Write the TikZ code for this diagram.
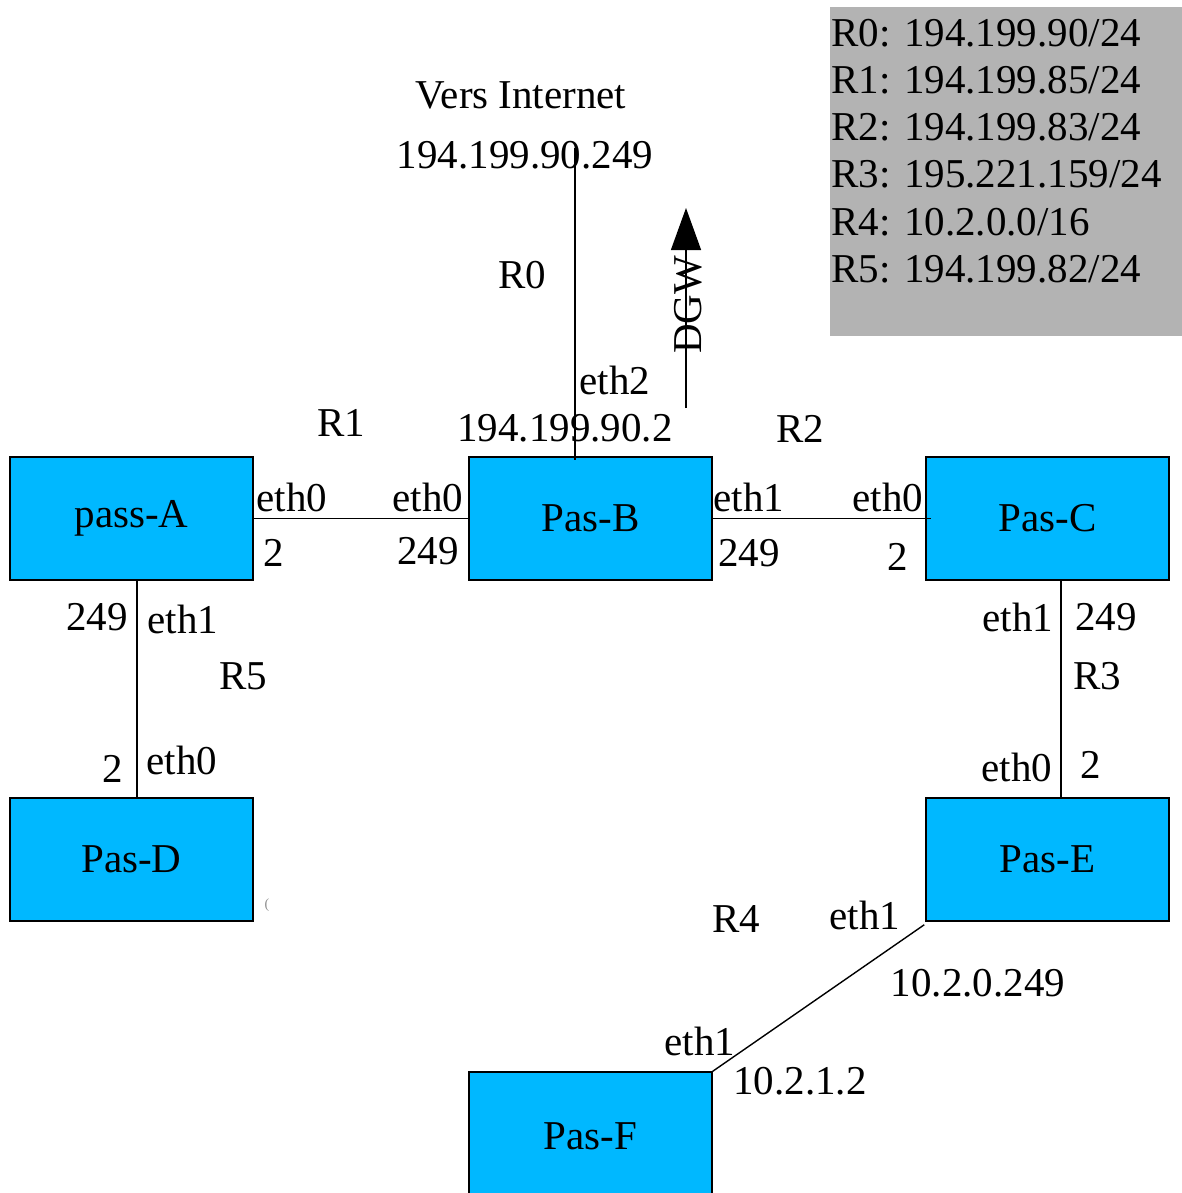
\documentclass[tikz,border=0pt]{standalone}
\usepackage{fontspec}
\setmainfont{Liberation Serif}
\usetikzlibrary{arrows.meta}
\definecolor{hostblue}{RGB}{0,184,255}
\definecolor{legendgray}{RGB}{179,179,179}
\tikzset{
  host/.style={draw=black, line width=1.5pt, fill=hostblue,
    minimum width=243pt, minimum height=123pt, inner sep=0pt,
    font=\fontsize{41}{46}\selectfont},
  lbl/.style={inner sep=0pt, font=\fontsize{41}{46}\selectfont},
  legend/.style={inner sep=0pt, anchor=base west, font=\fontsize{41}{46}\selectfont},
  link/.style={draw=black, line width=1.4pt}
}
\begin{document}
\begin{tikzpicture}[x=1pt,y=-1pt]
\useasboundingbox (0,0) rectangle (1182,1193);

% address plan of the six networks
\fill[legendgray] (830,7) rectangle (1182,336);
\node[legend] (leg0) at (831,47)  {R0: 194.199.90/24};
\node[legend] (leg1) at (831,94)  {R1: 194.199.85/24};
\node[legend] (leg2) at (831,141) {R2: 194.199.83/24};
\node[legend] (leg3) at (831,188) {R3: 195.221.159/24};
\node[legend] (leg4) at (831,235) {R4: 10.2.0.0/16};
\node[legend] (leg5) at (831,282) {R5: 194.199.82/24};

% hosts
\node[host] (A) at (131.5,518.5) {pass-A};
\node[host] (B) at (590.5,518.5) {Pas-B};
\node[host] (C) at (1047.5,518.5) {Pas-C};
\node[host] (D) at (131.5,859.5) {Pas-D};
\node[host] (E) at (1047.5,859.5) {Pas-E};
\node[host, minimum height=128pt] (F) at (590.5,1136) {Pas-F};

% links
\coordinate (inet) at (575,148);
\draw[link] (inet) -- ([yshift=-4pt]B.north -| inet);
\draw[link] (A.east) -- (B.west);
\draw[link] (B.east) -- ([xshift=6pt]C.west);
\draw[link] ([xshift=5.5pt]A.south) -- ([xshift=5.5pt]D.north);
\draw[link] ([xshift=13.5pt]C.south) -- ([xshift=13.5pt,yshift=-2pt]E.north);
\draw[link] ([xshift=-1pt,yshift=-3pt]E.south west) -- (F.north east);

% default gateway arrow
\coordinate (dgwtail) at (686,408);
\coordinate (dgwtip) at (686,208);
\draw[link, -{Triangle[length=42pt,width=30pt]}] (dgwtail) -- (dgwtip);
\node[lbl, rotate=90] (dgw) at (688,305) {DGW};

% labels
\node[lbl] (vers) at (521,95) {Vers Internet};
\node[lbl] (ipgw) at (525,155) {194.199.90.249};
\node[lbl] (r0) at (522,275) {R0};
\node[lbl] (beth2) at (615,380) {eth2};
\node[lbl] (bip2) at (565,428) {194.199.90.2};
\node[lbl] (r1) at (341,423) {R1};
\node[lbl] (r2) at (800,429) {R2};

\node[lbl] (aeth0) at (292,497) {eth0};
\node[lbl] (aip0) at (274,553) {2};
\node[lbl] (beth0) at (428,497) {eth0};
\node[lbl] (bip0) at (428,551) {249};
\node[lbl] (beth1) at (749,497) {eth1};
\node[lbl] (bip1) at (749,553) {249};
\node[lbl] (ceth0) at (888,497) {eth0};
\node[lbl] (cip0) at (898,557) {2};

\node[lbl] (aip1) at (97,617) {249};
\node[lbl] (aeth1) at (183,619) {eth1};
\node[lbl] (r5) at (243,676) {R5};
\node[lbl] (dip0) at (113,769) {2};
\node[lbl] (deth0) at (182,760) {eth0};

\node[lbl] (ceth1) at (1018,617) {eth1};
\node[lbl] (cip1) at (1106,617) {249};
\node[lbl] (r3) at (1097,676) {R3};
\node[lbl] (eeth0) at (1017,767) {eth0};
\node[lbl] (eip0) at (1091,765) {2};

\node[lbl] (r4) at (736,919) {R4};
\node[lbl] (eeth1) at (865,915) {eth1};
\node[lbl] (eip1) at (978,983) {10.2.0.249};
\node[lbl] (feth1) at (700,1041) {eth1};
\node[lbl] (fip1) at (800,1081) {10.2.1.2};

% stray mark beside Pas-D
\node[inner sep=0pt, text=black!45, font=\fontsize{14}{16}\selectfont] (mark) at (267,905) {(};
\end{tikzpicture}
\end{document}
